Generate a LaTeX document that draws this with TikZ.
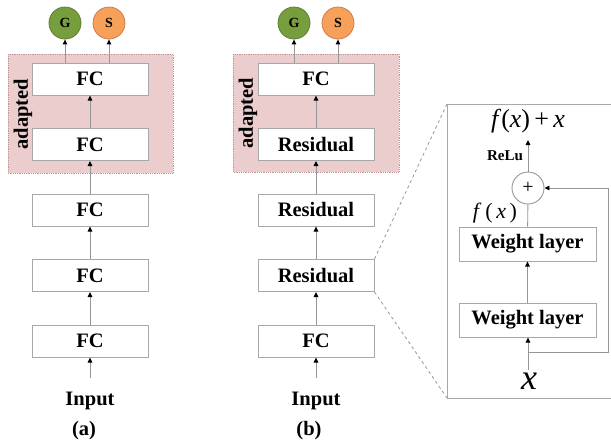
\documentclass[tikz,border=0pt]{standalone}
\usepackage{fontspec}
\setmainfont{Liberation Serif}
\usetikzlibrary{arrows.meta}
\definecolor{linegray}{RGB}{150,150,150}
\definecolor{boxgray}{RGB}{168,168,168}
\definecolor{adaptpink}{RGB}{236,205,205}
\definecolor{adaptedge}{RGB}{190,150,150}
\definecolor{ggreen}{RGB}{119,158,60}
\definecolor{gedge}{RGB}{95,125,55}
\definecolor{sorange}{RGB}{246,160,90}
\definecolor{sedge}{RGB}{205,125,75}

\begin{document}
\begin{tikzpicture}[x=1pt,y=-1pt,
  layer/.style={draw=boxgray,line width=1pt,fill=white,minimum width=116pt,
    minimum height=32pt,inner sep=0pt,font=\fontsize{20.5}{22}\selectfont\bfseries},
  wlayer/.style={layer,minimum width=137pt,minimum height=34pt},
  head/.style={circle,minimum size=32pt,inner sep=0pt,line width=0.8pt,
    font=\fontsize{14}{16}\selectfont\bfseries},
  flow/.style={draw=linegray,line width=0.9pt,-{Triangle[length=5pt,width=4.5pt,color=black]}},
  plain/.style={draw=linegray,line width=0.9pt},
  lbl/.style={font=\fontsize{20.5}{22}\selectfont\bfseries,inner sep=0pt},
  adaptbox/.style={fill=adaptpink,draw=adaptedge,densely dotted,line width=0.8pt},
]
\useasboundingbox (0,0) rectangle (611,445);

% adapted regions
\path[adaptbox] (8,54) rectangle (173,173);
\path[adaptbox] (233,54) rectangle (399,172);

% ---------- column (a): plain FC stack ----------
\node[layer] (a5) at (90,79) {FC};
\node[layer] (a4) at (90,144.5) {FC};
\node[layer] (a3) at (90,210) {FC};
\node[layer] (a2) at (90,275.5) {FC};
\node[layer] (a1) at (90,341) {FC};
\node[lbl] (ain) at (90,401) {Input};
\node[lbl] (acap) at (84,431) {(a)};
\node[head,fill=ggreen,draw=gedge] (ag) at (65,23) {G};
\node[head,fill=sorange,draw=sedge] (as) at (109,23) {S};
\node[lbl,rotate=90] (aad) at (23,114) {adapted};

\draw[flow,shorten <=14pt] (ain) -- (a1);
\draw[flow] (a1) -- (a2);
\draw[flow] (a2) -- (a3);
\draw[flow] (a3) -- (a4);
\draw[flow] (a4) -- (a5);
\draw[flow] (a5.north -| ag) -- (ag);
\draw[flow] (a5.north -| as) -- (as);

% ---------- column (b): residual stack ----------
\node[layer] (b5) at (316,79) {FC};
\node[layer] (b4) at (316,144.5) {Residual};
\node[layer] (b3) at (316,210) {Residual};
\node[layer] (b2) at (316,275.5) {Residual};
\node[layer] (b1) at (316,341) {FC};
\node[lbl] (bin) at (316,401) {Input};
\node[lbl] (bcap) at (309,431) {(b)};
\node[head,fill=ggreen,draw=gedge] (bg) at (294,23) {G};
\node[head,fill=sorange,draw=sedge] (bs) at (338,23) {S};
\node[lbl,rotate=90] (bad) at (248,113) {adapted};

\draw[flow,shorten <=14pt] (bin) -- (b1);
\draw[flow] (b1) -- (b2);
\draw[flow] (b2) -- (b3);
\draw[flow] (b3) -- (b4);
\draw[flow] (b4) -- (b5);
\draw[flow] (b5.north -| bg) -- (bg);
\draw[flow] (b5.north -| bs) -- (bs);

% ---------- residual block detail ----------
\coordinate (zt) at (447,104);
\coordinate (zb) at (447,398);
\draw[boxgray,line width=1pt] (611,104) -- (zt) -- (zb) -- (611,398);
\draw[linegray,line width=0.8pt,dashed] (b2.north east) -- (zt);
\draw[linegray,line width=0.8pt,dashed] (b2.south east) -- (zb);

\node[inner sep=0pt,font=\fontsize{26}{28}\selectfont] (out) at (528,121)
  {\textit{f}(\textit{x})\,+\,\textit{x}};
\node[inner sep=0pt,font=\fontsize{15}{16}\selectfont\bfseries] (relu) at (505,156) {ReLu};
\node[circle,draw=linegray,line width=0.9pt,fill=white,minimum size=32pt,inner sep=0pt,
  font=\fontsize{20}{20}\selectfont] (plus) at (528,188) {+};
\node[inner sep=0pt,font=\fontsize{22}{24}\selectfont] (fxl) at (495,213)
  {\textit{f}\,(\,\textit{x}\,)};
\node[wlayer] (w1) at (527.5,244) {Weight layer};
\node[wlayer] (w2) at (527.5,320) {Weight layer};
\node[inner sep=0pt,font=\fontsize{36}{36}\selectfont\itshape] (xin) at (529,381) {x};

\draw[flow] (plus.north) -- (plus.north |- 0,140);
\draw[plain] (w1) -- (plus);
\draw[flow] (w2) -- (w1);
\draw[flow] (xin.north -| plus) ++(0,-3) -- (w2.south -| plus);

\coordinate (sk1) at (528,352);
\coordinate (sk2) at (608,352);
\coordinate (sk3) at (608,188);
\draw[flow] (sk1) -- (sk2) -- (sk3) -- (plus);
\end{tikzpicture}
\end{document}
